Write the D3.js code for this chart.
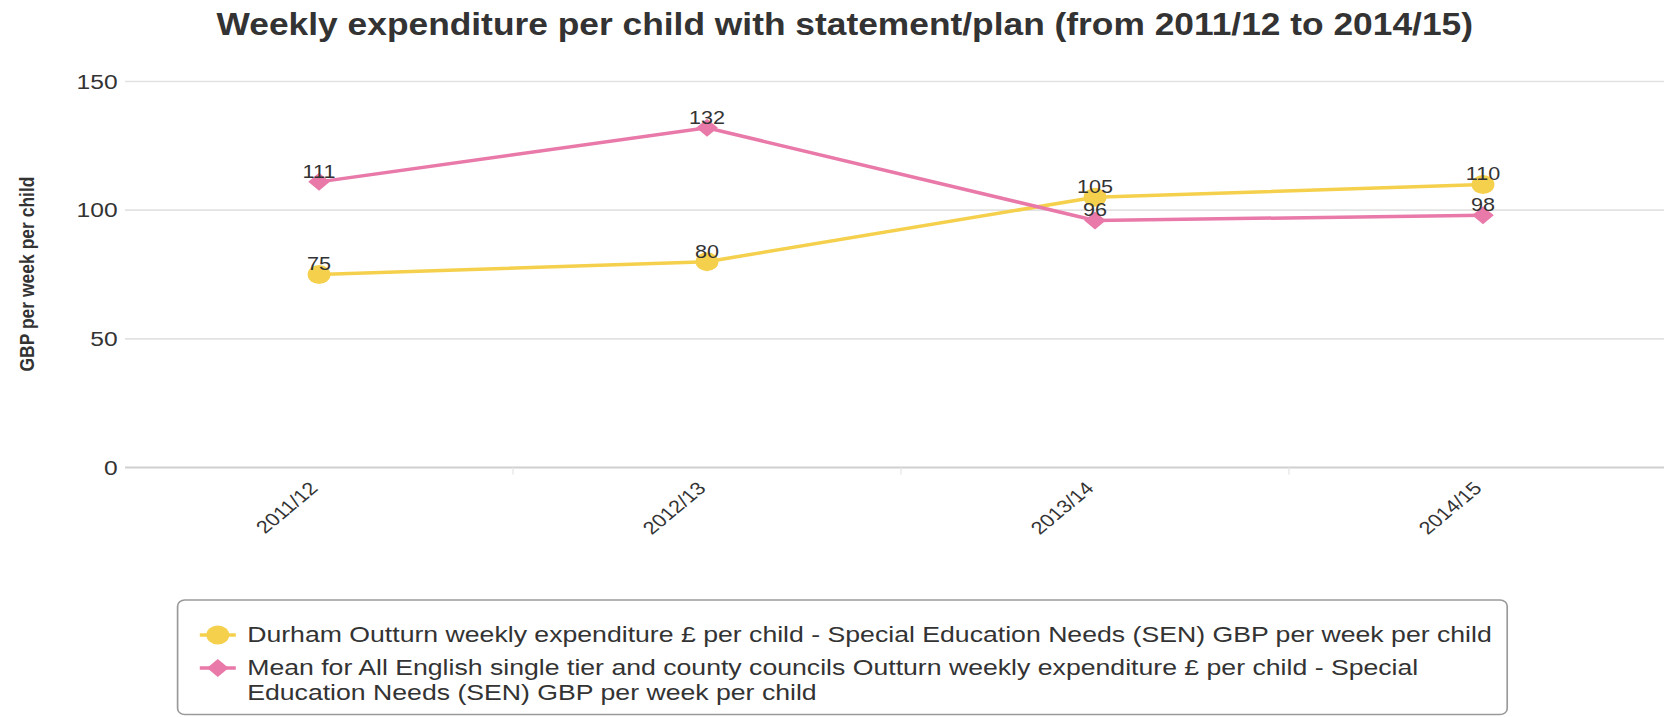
<!DOCTYPE html>
<html>
<head>
<meta charset="utf-8">
<script src="https://cdn.jsdelivr.net/npm/d3@7"></script>
<style>
    body{margin:0;background:#ffffff;}
    svg{display:block;font-family:"Liberation Sans",Arial,Helvetica,sans-serif;}
</style>
</head>
<body>
<svg id="chart" width="1664" height="717"></svg>
<script>

// chart values
let years = ["2011/12","2012/13","2013/14","2014/15"];
let durhamValues = [75,80,105,110];
let meanValues = [111,132,96,98];
let yTicks = [0,50,100,150];
let seriesNames = [
    "Durham Outturn weekly expenditure \u00a3 per child - Special Education Needs (SEN) GBP per week per child",
    "Mean for All English single tier and county councils Outturn weekly expenditure \u00a3 per child - Special Education Needs (SEN) GBP per week per child"
];
let legendLines = [
    ["Durham Outturn weekly expenditure \u00a3 per child - Special Education Needs (SEN) GBP per week per child"],
    ["Mean for All English single tier and county councils Outturn weekly expenditure \u00a3 per child - Special",
     "Education Needs (SEN) GBP per week per child"]
];
let titleText = "Weekly expenditure per child with statement/plan (from 2011/12 to 2014/15)";
let yTitle = "GBP per week per child";

function makeChart(svgid){

    let svg = d3.select("svg" + svgid);

    //the picture is stretched sideways, so draw everything in a squeezed frame
    let stretch = 1.2;
    let width = 1664 / stretch;

    let yellow = "#f5d04c";
    let pink = "#e879a8";
    let textColor = "#333333";

    let g = svg.append("g").attr("transform","scale(" + stretch + ",1)");

//#region Scales

    let xScale = d3.scaleBand()
                .domain(years)
                .range([104.2,1397.5]);

    let yScale = d3.scaleLinear()
                .domain([0,150])
                .range([467.5,81.5]);

    function cx(d,i){
        return xScale(years[i]) + xScale.bandwidth()/2;
    }

//#endregion

//#region title

    g.append("text")
        .attr("x",704)
        .attr("y",35)
        .attr("text-anchor","middle")
        .attr("font-size",31)
        .attr("font-weight","bold")
        .attr("fill",textColor)
        .attr("textLength",1047)
        .attr("lengthAdjust","spacingAndGlyphs")
        .text(titleText);

//#endregion

//#region grid and axes

    g.selectAll("line.grid")
        .data(yTicks.filter(function(t){ return t > 0; }))
        .join("line")
        .attr("class","grid")
        .attr("x1",104.2)
        .attr("x2",width)
        .attr("y1",function(d){ return yScale(d); })
        .attr("y2",function(d){ return yScale(d); })
        .attr("stroke","#e2e2e2")
        .attr("stroke-width",1.6);

    //bottom axis line
    g.append("line")
        .attr("x1",104.2)
        .attr("x2",width)
        .attr("y1",yScale(0))
        .attr("y2",yScale(0))
        .attr("stroke","#d0d0d0")
        .attr("stroke-width",2);

    //small ticks between categories
    g.selectAll("line.xtick")
        .data(years.slice(1))
        .join("line")
        .attr("class","xtick")
        .attr("x1",function(d){ return xScale(d); })
        .attr("x2",function(d){ return xScale(d); })
        .attr("y1",yScale(0))
        .attr("y2",yScale(0) + 7)
        .attr("stroke","#e4e4e4")
        .attr("stroke-width",1);

    g.selectAll("text.ylab")
        .data(yTicks)
        .join("text")
        .attr("class","ylab")
        .attr("x",98)
        .attr("y",function(d){ return yScale(d); })
        .attr("dy","0.35em")
        .attr("text-anchor","end")
        .attr("font-size",20.5)
        .attr("fill",textColor)
        .text(function(d){ return d; });

    g.selectAll("text.xlab")
        .data(years)
        .join("text")
        .attr("class","xlab")
        .attr("text-anchor","end")
        .attr("font-size",18)
        .attr("fill",textColor)
        .attr("transform",function(d,i){
            let x = cx(d,i);
            let y = yScale(0) + 22;
            return "translate(" + x + "," + y + ")rotate(-45)";
        })
        .text(function(d){ return d; });

    g.append("text")
        .attr("transform","translate(22,274)rotate(-90)")
        .attr("text-anchor","middle")
        .attr("dy","0.35em")
        .attr("font-size",17.5)
        .attr("font-weight","bold")
        .attr("fill",textColor)
        .text(yTitle);

//#endregion

//#region lines and markers

    let line = d3.line()
                .x(function(d,i){ return cx(d,i); })
                .y(function(d){ return yScale(d); });

    function diamond(size){
        return "M0," + (-size) + "L" + size + ",0L0," + size + "L" + (-size) + ",0Z";
    }

    //durham series
    g.append("path")
        .datum(durhamValues)
        .attr("d",line)
        .attr("fill","none")
        .attr("stroke",yellow)
        .attr("stroke-width",3.5);

    //mean series
    g.append("path")
        .datum(meanValues)
        .attr("d",line)
        .attr("fill","none")
        .attr("stroke",pink)
        .attr("stroke-width",3.5);

    g.selectAll("circle.durham")
        .data(durhamValues)
        .join("circle")
        .attr("class","durham")
        .attr("cx",cx)
        .attr("cy",function(d){ return yScale(d); })
        .attr("r",9.5)
        .attr("fill",yellow);

    g.selectAll("path.mean")
        .data(meanValues)
        .join("path")
        .attr("class","mean")
        .attr("d",diamond(9))
        .attr("transform",function(d,i){
            return "translate(" + cx(d,i) + "," + yScale(d) + ")";
        })
        .attr("fill",pink);

    //value labels sit just over each marker
    let allPoints = [];
    durhamValues.forEach(function(v,i){ allPoints.push({v:v,i:i}); });
    meanValues.forEach(function(v,i){ allPoints.push({v:v,i:i}); });

    g.selectAll("text.val")
        .data(allPoints)
        .join("text")
        .attr("class","val")
        .attr("x",function(d){ return cx(d,d.i); })
        .attr("y",function(d){ return yScale(d.v) - 4; })
        .attr("text-anchor","middle")
        .attr("font-size",18)
        .attr("fill",textColor)
        .text(function(d){ return d.v; });

//#endregion

//#region legend

    g.append("rect")
        .attr("x",148)
        .attr("y",600)
        .attr("width",1108)
        .attr("height",114.5)
        .attr("rx",6)
        .attr("fill","#ffffff")
        .attr("stroke","#9a9a9a")
        .attr("stroke-width",1.4);

    let legendY = [635,668];
    let colors = [yellow,pink];

    let items = g.selectAll("g.legitem")
        .data(seriesNames)
        .join("g")
        .attr("class","legitem")
        .attr("transform",function(d,i){ return "translate(0," + legendY[i] + ")"; });

    items.append("line")
        .attr("x1",166.5)
        .attr("x2",196.5)
        .attr("stroke",function(d,i){ return colors[i]; })
        .attr("stroke-width",3.5);

    items.each(function(d,i){
        let item = d3.select(this);
        if(i == 0){
            item.append("circle").attr("cx",181.5).attr("r",9.5).attr("fill",colors[i]);
        }else{
            item.append("path").attr("d",diamond(9)).attr("transform","translate(181.5,0)").attr("fill",colors[i]);
        }
        item.selectAll("text")
            .data(legendLines[i])
            .join("text")
            .attr("x",206)
            .attr("y",function(t,k){ return 6.5 + k * 25.5; })
            .attr("font-size",22.2)
            .attr("fill",textColor)
            .text(function(t){ return t; });
    });

//#endregion
}

makeChart("#chart");
</script>
</body>
</html>
